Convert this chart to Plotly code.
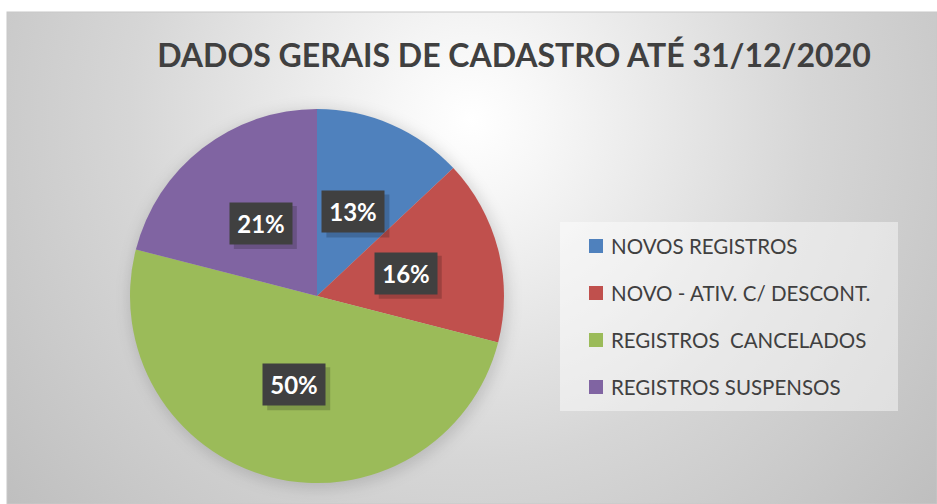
import math
import base64
import plotly.graph_objects as go

# ---------------- data ----------------
categories = ["NOVOS REGISTROS", "NOVO - ATIV. C/ DESCONT.", "REGISTROS  CANCELADOS", "REGISTROS SUSPENSOS"]
values = [13, 16, 50, 21]
colors = ["#4f81bd", "#c0504d", "#9bbb59", "#8064a2"]
title_text = "DADOS GERAIS DE CADASTRO ATÉ 31/12/2020"

W, H = 937, 504
CX, CY, R = 317, 296, 187  # pie centre / radius in px (from top-left)

# ---------------- background (radial gradient) ----------------
svg = f'''<svg xmlns="http://www.w3.org/2000/svg" width="{W}" height="{H}" viewBox="0 0 {W} {H}">
<defs>
<radialGradient id="g" gradientUnits="userSpaceOnUse" cx="470" cy="120" r="620">
<stop offset="0" stop-color="#ffffff"/>
<stop offset="0.12" stop-color="#f7f7f7"/>
<stop offset="0.55" stop-color="#d6d6d6"/>
<stop offset="1" stop-color="#bdbdbd"/>
</radialGradient>
<filter id="b" x="-20%" y="-20%" width="140%" height="140%"><feGaussianBlur stdDeviation="7"/></filter>
</defs>
<rect x="0" y="0" width="{W}" height="{H}" fill="#ffffff"/>
<rect x="7" y="12" width="{W-7}" height="{H-12}" fill="url(#g)" stroke="#c8c8c8" stroke-width="1"/>
<circle cx="{CX+2}" cy="{CY+3}" r="{R+3}" fill="rgba(0,0,0,0.13)" filter="url(#b)"/>
</svg>'''
bg_uri = "data:image/svg+xml;base64," + base64.b64encode(svg.encode()).decode()

fig = go.Figure()
fig.add_trace(go.Pie(
    labels=categories, values=values, sort=False, direction="clockwise", rotation=0,
    marker=dict(colors=colors, line=dict(width=0)),
    textinfo="none", hoverinfo="label+percent", showlegend=False,
    domain=dict(x=[(CX - R) / W, (CX + R) / W], y=[(H - CY - R) / H, (H - CY + R) / H]),
))

annotations = []
shapes = []
# ---------------- data labels (computed from data) ----------------
BW, BH = 62, 41
total = sum(values)
cum = 0
for v in values:
    mid = (cum + v / 2) / total * 2 * math.pi
    cum += v
    px = CX + 0.49 * R * math.sin(mid)
    py = CY - 0.49 * R * math.cos(mid)
    txt = f"{round(v / total * 100)}%"
    xa, ya = px / W, 1 - py / H
    # soft shadow
    shapes.append(dict(type="rect", xref="paper", yref="paper", layer="above",
                       xsizemode="pixel", ysizemode="pixel", xanchor=xa, yanchor=ya,
                       x0=-BW / 2 + 4, x1=BW / 2 + 5, y0=-BH / 2 - 5, y1=BH / 2 - 3,
                       fillcolor="rgba(0,0,0,0.18)", line=dict(width=0)))
    annotations.append(dict(text=f"<b>{txt}</b>", bgcolor="#404040",
                            xref="paper", yref="paper", x=xa, y=ya, showarrow=False,
                            width=BW - 12, height=BH - 12, borderpad=6,
                            xanchor="center", yanchor="middle",
                            font=dict(color="#ffffff", size=24, family="Lato")))

# ---------------- legend (manual) ----------------
LX0, LY0, LX1, LY1 = 560, 222, 898, 411
shapes.append(dict(type="rect", xref="paper", yref="paper", layer="below",
                   x0=LX0 / W, x1=LX1 / W, y0=1 - LY1 / H, y1=1 - LY0 / H,
                   fillcolor="rgba(255,255,255,0.45)", line=dict(width=0)))
for i, (cat, col) in enumerate(zip(categories, colors)):
    yc = 246 + i * 47
    shapes.append(dict(type="rect", xref="paper", yref="paper",
                       x0=589 / W, x1=603 / W, y0=1 - (yc + 7) / H, y1=1 - (yc - 7) / H,
                       fillcolor=col, line=dict(width=0)))
    annotations.append(dict(text=cat, xref="paper", yref="paper", x=609 / W, y=1 - yc / H,
                            xanchor="left", yanchor="middle", showarrow=False,
                            font=dict(family="Lato", size=20.5, color="#404040")))

fig.update_layout(
    width=W, height=H, margin=dict(l=0, r=0, t=0, b=0),
    paper_bgcolor="#ffffff", plot_bgcolor="rgba(0,0,0,0)",
    title=dict(text=f"<b>{title_text}</b>", x=514 / W, y=1 - 56 / H, xanchor="center", yanchor="middle",
               font=dict(family="Lato", size=32, color="#404040")),
    images=[dict(source=bg_uri, xref="paper", yref="paper", x=0, y=1, sizex=1, sizey=1,
                 xanchor="left", yanchor="top", sizing="stretch", layer="below")],
    annotations=annotations, shapes=shapes,
)

fig.write_html("out.html", config={"displayModeBar": False},
               post_script="document.body.style.margin='0';document.body.style.padding='0';")
